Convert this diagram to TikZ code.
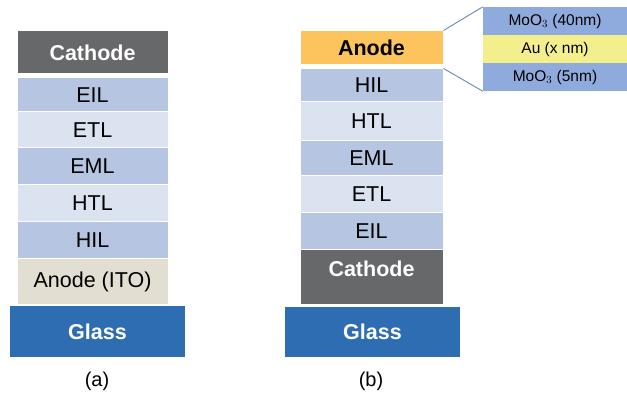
\documentclass[tikz,border=0pt]{standalone}
\usepackage{fontspec}
\setmainfont{Liberation Sans}
\definecolor{cathodegray}{HTML}{67686A}
\definecolor{layerblue}{HTML}{B5C5E2}
\definecolor{layerlight}{HTML}{DCE3F0}
\definecolor{itobeige}{HTML}{E2DED2}
\definecolor{glassblue}{HTML}{2F6DB2}
\definecolor{anodeorange}{HTML}{FDC45E}
\definecolor{moblue}{HTML}{8FAADC}
\definecolor{auyellow}{HTML}{F3EF8C}
\definecolor{zoomline}{HTML}{5A80AA}
\tikzset{
  layer/.style={draw=white, line width=1pt, inner sep=0pt, text=black,
    font=\fontsize{21.5}{24}\selectfont},
  boldlayer/.style={layer, font=\fontsize{21.5}{24}\selectfont\bfseries},
  sublayer/.style={inner sep=0pt, minimum width=144pt, minimum height=28pt,
    font=\fontsize{15.5}{18}\selectfont},
  caption/.style={font=\fontsize{20}{23}\selectfont}
}
\begin{document}
\begin{tikzpicture}[x=1pt,y=-1pt]
  \useasboundingbox (0,0) rectangle (627,398);
  % (a) conventional stack
  \node[boldlayer, fill=cathodegray, text=white, minimum width=151pt, minimum height=43pt] (cathA) at (92.5,52.5) {Cathode};
  \node[layer, fill=layerblue, minimum width=151pt, minimum height=34pt] (eilA) at (92.5,95) {EIL};
  \node[layer, fill=layerlight, minimum width=151pt, minimum height=36pt] (etlA) at (92.5,130) {ETL};
  \node[layer, fill=layerblue, minimum width=151pt, minimum height=37pt] (emlA) at (92.5,166.5) {EML};
  \node[layer, fill=layerlight, minimum width=151pt, minimum height=37pt] (htlA) at (92.5,203.5) {HTL};
  \node[layer, fill=layerblue, minimum width=151pt, minimum height=37pt] (hilA) at (92.5,240.5) {HIL};
  \node[layer, fill=itobeige, minimum width=151pt, minimum height=46pt] (anodeA) at (92.5,282) {Anode (ITO)};
  \node[boldlayer, fill=glassblue, text=white, draw=none, minimum width=175pt, minimum height=51pt] (glassA) at (97.5,331.5) {Glass};
  \node[caption] (capA) at (97,381) {(a)};
  % (b) inverted stack
  \node[boldlayer, fill=anodeorange, minimum width=143pt, minimum height=34pt] (anodeB) at (371.5,48) {Anode};
  \node[layer, fill=layerblue, minimum width=143pt, minimum height=33pt] (hilB) at (371.5,85.5) {HIL};
  \node[layer, fill=layerlight, minimum width=143pt, minimum height=39pt] (htlB) at (371.5,121.5) {HTL};
  \node[layer, fill=layerblue, minimum width=143pt, minimum height=35pt] (emlB) at (371.5,158.5) {EML};
  \node[layer, fill=layerlight, minimum width=143pt, minimum height=37pt] (etlB) at (371.5,194.5) {ETL};
  \node[layer, fill=layerblue, minimum width=143pt, minimum height=37pt] (eilB) at (371.5,231.5) {EIL};
  \node[boldlayer, fill=cathodegray, text=white, minimum width=143pt, minimum height=55pt, text depth=18pt] (cathB) at (371.5,277.5) {Cathode};
  \node[boldlayer, fill=glassblue, text=white, draw=none, minimum width=175pt, minimum height=50pt] (glassB) at (372.5,332) {Glass};
  \node[caption] (capB) at (371,381) {(b)};
  % anode detail
  \node[sublayer, fill=moblue] (moTop) at (555,21) {MoO$_3$ (40nm)};
  \node[sublayer, fill=auyellow] (auMid) at (555,49) {Au (x nm)};
  \node[sublayer, fill=moblue] (moBot) at (555,77) {MoO$_3$ (5nm)};
  \draw[zoomline, line width=0.8pt] (anodeB.north east) -- (moTop.north west);
  \draw[zoomline, line width=0.8pt] (hilB.north east) -- (moBot.south west);
\end{tikzpicture}
\end{document}
